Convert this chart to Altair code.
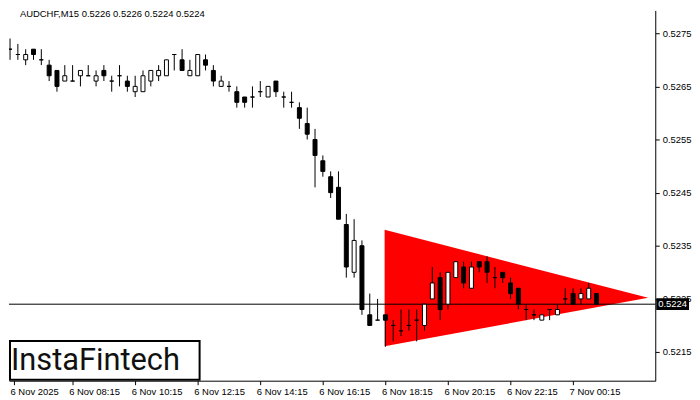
import altair as alt
import pandas as pd

symbol = "AUDCHF,M15"
tick_labels = ["6 Nov 2025", "6 Nov 08:15", "6 Nov 10:15", "6 Nov 12:15", "6 Nov 14:15",
               "6 Nov 16:15", "6 Nov 18:15", "6 Nov 20:15", "6 Nov 22:15", "7 Nov 00:15"]
price_ticks = [0.5215, 0.5225, 0.5235, 0.5245, 0.5255, 0.5265, 0.5275]

opens = [0.5272, 0.5271, 0.5270, 0.5272, 0.5270, 0.5269, 0.5268, 0.5266, 0.5266, 0.5267,
         0.5267, 0.5266, 0.5268, 0.5266, 0.5267, 0.5266, 0.5264, 0.5264, 0.5266, 0.5267,
         0.5267, 0.5271, 0.5270, 0.5267, 0.5267, 0.5270, 0.5268, 0.5265, 0.5265, 0.5264,
         0.5263, 0.5263, 0.5264, 0.5263, 0.5266, 0.5263, 0.5262, 0.5261, 0.5258, 0.5255,
         0.5251, 0.5248, 0.5246, 0.5239, 0.5230, 0.5235, 0.5222, 0.5221, 0.5222, 0.5220,
         0.5219, 0.5220, 0.5221, 0.5220, 0.5225, 0.5229, 0.5224, 0.5229, 0.5231, 0.5227,
         0.5232, 0.5232, 0.5229, 0.5230, 0.5228, 0.5227, 0.5223, 0.5222, 0.5221, 0.5223,
         0.5222, 0.5225, 0.5226, 0.5225, 0.5225, 0.5226]
highs = [0.5274, 0.5273, 0.5272, 0.5272, 0.5272, 0.5270, 0.5268, 0.5269, 0.5269, 0.5268,
         0.5269, 0.5268, 0.5269, 0.5267, 0.5269, 0.5267, 0.5267, 0.5268, 0.5268, 0.5269,
         0.5270, 0.5271, 0.5272, 0.5270, 0.5271, 0.5271, 0.5269, 0.5267, 0.5266, 0.5265,
         0.5263, 0.5265, 0.5266, 0.5265, 0.5266, 0.5264, 0.5264, 0.5262, 0.5261, 0.5257,
         0.5252, 0.5249, 0.5249, 0.5241, 0.5240, 0.5236, 0.5226, 0.5225, 0.5222, 0.5221,
         0.5223, 0.5223, 0.5223, 0.5224, 0.5231, 0.5230, 0.5230, 0.5232, 0.5232, 0.5232,
         0.5232, 0.5233, 0.5231, 0.5230, 0.5229, 0.5227, 0.5224, 0.5223, 0.5222, 0.5223,
         0.5224, 0.5227, 0.5227, 0.5227, 0.5228, 0.5226]
lows = [0.5270, 0.5270, 0.5269, 0.5270, 0.5269, 0.5266, 0.5264, 0.5266, 0.5266, 0.5265,
        0.5267, 0.5265, 0.5266, 0.5264, 0.5265, 0.5264, 0.5263, 0.5264, 0.5265, 0.5266,
        0.5267, 0.5268, 0.5268, 0.5267, 0.5267, 0.5268, 0.5265, 0.5265, 0.5264, 0.5261,
        0.5261, 0.5261, 0.5263, 0.5263, 0.5263, 0.5261, 0.5261, 0.5257, 0.5255, 0.5246,
        0.5248, 0.5244, 0.5240, 0.5229, 0.5229, 0.5222, 0.5220, 0.5221, 0.5216, 0.5217,
        0.5218, 0.5219, 0.5217, 0.5219, 0.5225, 0.5221, 0.5223, 0.5229, 0.5227, 0.5227,
        0.5230, 0.5228, 0.5227, 0.5228, 0.5225, 0.5223, 0.5221, 0.5221, 0.5221, 0.5221,
        0.5222, 0.5224, 0.5224, 0.5224, 0.5225, 0.5224]
closes = [0.5272, 0.5271, 0.5271, 0.5271, 0.5270, 0.5267, 0.5265, 0.5267, 0.5266, 0.5268,
          0.5267, 0.5267, 0.5267, 0.5266, 0.5267, 0.5265, 0.5265, 0.5267, 0.5268, 0.5268,
          0.5270, 0.5271, 0.5268, 0.5268, 0.5271, 0.5269, 0.5266, 0.5266, 0.5265, 0.5262,
          0.5262, 0.5263, 0.5264, 0.5265, 0.5264, 0.5263, 0.5262, 0.5259, 0.5256, 0.5252,
          0.5249, 0.5245, 0.5240, 0.5231, 0.5236, 0.5223, 0.5220, 0.5221, 0.5221, 0.5220,
          0.5219, 0.5220, 0.5221, 0.5224, 0.5228, 0.5223, 0.5230, 0.5232, 0.5228, 0.5231,
          0.5231, 0.5230, 0.5229, 0.5229, 0.5226, 0.5224, 0.5223, 0.5222, 0.5222, 0.5223,
          0.5223, 0.5225, 0.5224, 0.5226, 0.5227, 0.5224]

# triangle pattern (bar index, upper edge, lower edge)
tri_x = [47.9, 81.6]
tri_top = [0.52380, 0.52252]
tri_bot = [0.52161, 0.52252]

n = len(opens)
df = pd.DataFrame({"i": list(range(n)), "open": opens, "high": highs, "low": lows, "close": closes})
df["fillc"] = ["white" if c > o else "black" for o, c in zip(opens, closes)]
tri = pd.DataFrame({"x": tri_x, "top": tri_top, "bot": tri_bot})
last = pd.DataFrame({"p": [closes[-1]]})
last["p1"] = last["p"] - 0.00011
last["p2"] = last["p"] + 0.00011

xscale = alt.Scale(domain=[0.5, 81.875], nice=False, zero=False)
yscale = alt.Scale(domain=[0.52096, 0.52793], nice=False, zero=False)

label_expr = "[" + ",".join("'%s'" % t for t in tick_labels) + "][round(datum.value/8)]"
x_vals = [0.5] + [8 * k for k in range(1, len(tick_labels))]
xaxis = alt.Axis(values=x_vals, labelExpr=label_expr, labelAlign="left", tickSize=4,
                 labelPadding=2, labelOffset=-4, title=None, grid=False,
                 labelFlush=False, labelOverlap=False)
yaxis = alt.Axis(values=price_ticks, format=".4f", orient="right", tickSize=4,
                 labelPadding=3, title=None, grid=False, labelFlush=False, labelOverlap=False)


def X(f):
    return alt.X(f, type="quantitative", scale=xscale, axis=xaxis)


def Y(f):
    return alt.Y(f, type="quantitative", scale=yscale, axis=yaxis)


triangle = alt.Chart(tri).mark_area(color="#FF0000", opacity=1, clip=True).encode(
    x=X("x"), y=Y("top"), y2="bot")

pline = alt.Chart(last).mark_rule(color="black", strokeWidth=1).encode(y=Y("p"))

wicks = alt.Chart(df).mark_rule(color="black", strokeWidth=1, clip=True).encode(
    x=X("i"), y=Y("low"), y2="high")

bodies = alt.Chart(df).mark_bar(size=4, stroke="black", strokeWidth=1, clip=True).encode(
    x=X("i"), y=Y("open"), y2="close",
    fill=alt.Fill("fillc:N", scale=None))

title_txt = "%s  %.4f %.4f %.4f %.4f" % (symbol, opens[-1], highs[-1], lows[-1], closes[-1])
title = alt.Chart(pd.DataFrame({"t": [title_txt]})).mark_text(
    align="left", baseline="middle", font="Liberation Sans", fontSize=9.5, color="black"
).encode(x=alt.value(11), y=alt.value(4), text="t:N")

logo_box = alt.Chart(pd.DataFrame({"a": [0]})).mark_rect(
    fill="white", stroke="black", strokeWidth=2
).encode(x=alt.value(1), x2=alt.value(192), y=alt.value(333), y2=alt.value(372))

logo_txt = alt.Chart(pd.DataFrame({"t": ["InstaFintech"]})).mark_text(
    align="left", baseline="alphabetic", font="Roboto", fontSize=31, color="#111111"
).encode(x=alt.value(2), y=alt.value(362), text="t:N")

pbox = alt.Chart(last).mark_rect(color="black").encode(
    x=alt.value(652), x2=alt.value(685), y=Y("p1"), y2="p2")
ptxt = alt.Chart(last).mark_text(
    align="left", baseline="middle", font="Liberation Sans", fontSize=9.5, color="white"
).encode(x=alt.value(654), y=Y("p"), text=alt.Text("p:Q", format=".4f"))

chart = alt.layer(triangle, pline, wicks, bodies, title, logo_box, logo_txt, pbox, ptxt).properties(
    width=651, height=373, padding={"left": 0, "top": 0, "right": 0, "bottom": 0}
).configure_view(stroke=None).configure_axis(
    domainColor="black", tickColor="black", labelColor="black",
    labelFont="Liberation Sans", labelFontSize=9.5, domainWidth=1, tickWidth=1
)

chart.save("out.html", embed_options={"renderer": "svg", "actions": False})
